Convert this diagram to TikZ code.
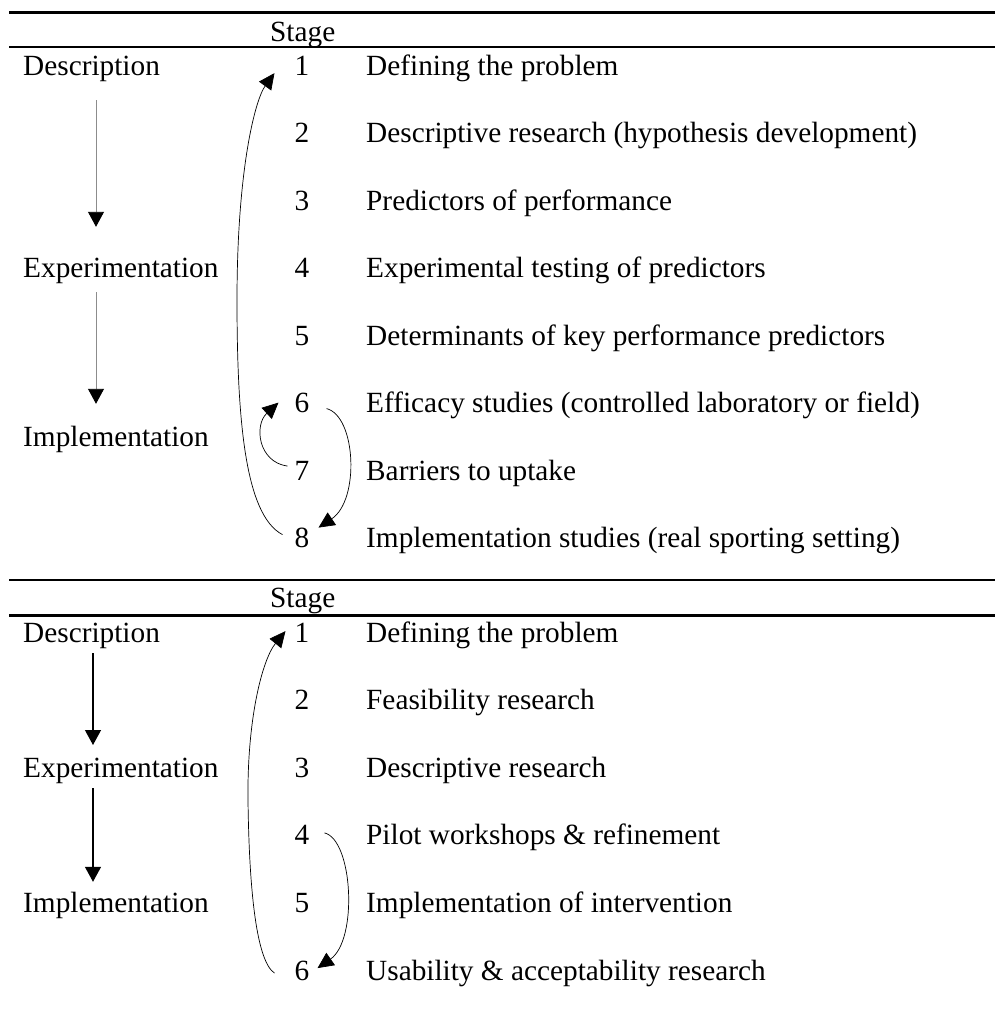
\documentclass[tikz,border=0pt]{standalone}
\usepackage{fontspec}
\setmainfont{Liberation Serif}
\usetikzlibrary{arrows.meta}
\begin{document}
\begin{tikzpicture}[x=1pt,y=-1pt,
  txt/.style={font=\fontsize{29.3}{35}\selectfont, inner sep=0pt, text height=20pt, text depth=6.4pt, anchor=base west},
  num/.style={font=\fontsize{29.3}{35}\selectfont, inner sep=0pt, text height=19.8pt, text depth=0pt, anchor=base},
  rule/.style={line width=2.4pt},
  phasearrow/.style={line width=1.2pt, -{Triangle[length=15pt,width=16pt]}},
  lightphase/.style={line width=0.9pt, draw=black!45, -{Triangle[length=15pt,width=16pt,color=black]}},
  loop/.style={line width=0.7pt, -{Triangle[length=16pt,width=15pt]}}
]
\useasboundingbox (0,0) rectangle (995,1015);

% ---------- first table ----------
\draw[rule] (9,12.5) -- (995,12.5);
\draw[rule] (9,47.2) -- (995,47.2);
\node[txt] (stageA) at (270,41) {Stage};

\node[txt] (descA) at (23,75) {Description};
\node[txt] (expA)  at (23,277.5) {Experimentation};
\node[txt] (impA)  at (23,446) {Implementation};

\foreach \i/\t [evaluate=\i as \b using 75+67.5*(\i-1)] in {
  1/Defining the problem,
  2/Descriptive research (hypothesis development),
  3/Predictors of performance,
  4/Experimental testing of predictors,
  5/Determinants of key performance predictors,
  6/Efficacy studies (controlled laboratory or field),
  7/Barriers to uptake,
  8/Implementation studies (real sporting setting)} {
  \node[num] (a\i) at (302,\b) {\i};
  \node[txt] (ta\i) at (366,\b) {\t};
}

\draw[lightphase] ([shift={(73,18.6)}]descA.south west) -- ([shift={(73,-30.5)}]expA.north west);
\draw[lightphase] ([shift={(73,8)}]expA.south west) -- ([shift={(73,-22)}]impA.north west);

\draw[loop] ([shift={(-12,-3)}]a8.west)
  .. controls (245,515) and (237,420) .. (237,300)
  .. controls (237,170) and (255,100) .. ([shift={(-20,8)}]a1.west);
\draw[loop] ([shift={(-7,-4)}]a7.west)
  .. controls (258,462) and (254,425) .. ([shift={(-16,0)}]a6.west);
\draw[loop] ([shift={(17,6)}]a6.east)
  .. controls (356,416) and (360,500) .. ([shift={(9,-10)}]a8.east);

% ---------- second table ----------
\draw[rule] (9,580.2) -- (995,580.2);
\draw[rule] (9,615.3) -- (995,615.3);
\node[txt] (stageB) at (270,607) {Stage};

\node[txt] (descB) at (23,642) {Description};
\node[txt] (expB)  at (23,777.2) {Experimentation};
\node[txt] (impB)  at (23,912.4) {Implementation};

\foreach \i/\t [evaluate=\i as \b using 642+67.6*(\i-1)] in {
  1/Defining the problem,
  2/Feasibility research,
  3/Descriptive research,
  4/Pilot workshops \& refinement,
  5/Implementation of intervention,
  6/Usability \& acceptability research} {
  \node[num] (b\i) at (302,\b) {\i};
  \node[txt] (tb\i) at (366,\b) {\t};
}

\draw[phasearrow] ([shift={(70,4.6)}]descB.south west) -- ([shift={(70,-12)}]expB.north west);
\draw[phasearrow] ([shift={(70,4.4)}]expB.south west) -- ([shift={(70,-10.4)}]impB.north west);

\draw[loop] ([shift={(-20,3)}]b6.west)
  .. controls (255,960) and (249,880) .. (248,800)
  .. controls (247,720) and (262,660) .. ([shift={(-9,-1)}]b1.west);
\draw[loop] ([shift={(15,-2)}]b4.east)
  .. controls (353,840) and (358,940) .. ([shift={(8,-2)}]b6.east);
\end{tikzpicture}
\end{document}
